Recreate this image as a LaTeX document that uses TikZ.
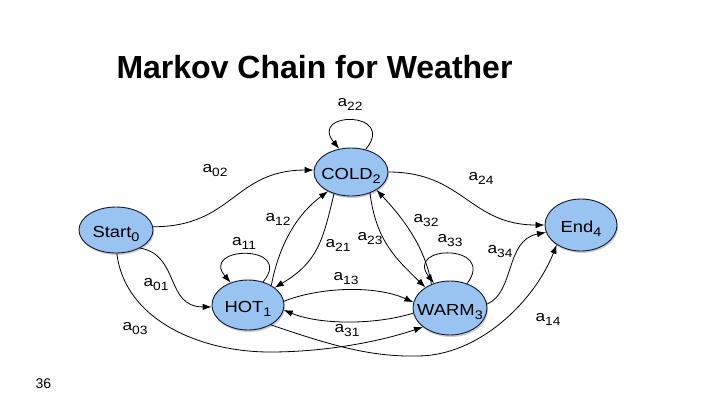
\documentclass[tikz,border=0pt]{standalone}
\usepackage{fontspec}
\setmainfont{Liberation Sans}
\newfontfamily\dfont[FakeStretch=1.15]{Liberation Sans}
\usetikzlibrary{shapes.geometric,shadows,arrows.meta}
\definecolor{nodeblue}{RGB}{153,196,242}
\definecolor{nodeedge}{RGB}{20,25,50}
\newcommand\nsub[1]{\raisebox{-4pt}{\fontsize{12.5}{12.5}\selectfont #1}}
\newcommand\lbl[1]{{\fontsize{15}{15}\selectfont a}\raisebox{-4pt}{\fontsize{12}{12}\selectfont #1}}
\begin{document}
\begin{tikzpicture}[x=1pt,y=-1pt,
  state/.style={ellipse, draw=nodeedge, line width=0.9pt, fill=nodeblue, inner sep=0pt,
    drop shadow={opacity=0.4, shadow xshift=1pt, shadow yshift=-2pt}},
  nodetext/.style={inner sep=0pt, yshift=-4pt, font=\dfont\fontsize{16}{16}\selectfont},
  edge/.style={line width=0.8pt, -{Latex[length=9pt,width=6.5pt]}},
  lab/.style={inner sep=0pt, font=\dfont}]
\fill[white] (0,0) rectangle (720,405);
\useasboundingbox (0,0) rectangle (720,405);

\node[anchor=base west, font=\bfseries\fontsize{32}{32}\selectfont] (title) at (113,78) {Markov Chain for Weather};
\node[anchor=base west, font=\fontsize{14}{14}\selectfont] (pg) at (32,388) {36};

\node[state, minimum width=74pt, minimum height=46pt, label={[nodetext]center:{Start\nsub{0}}}] (S) at (116,230) {};
\node[state, minimum width=74pt, minimum height=48pt, label={[nodetext]center:{COLD\nsub{2}}}] (C) at (351,172) {};
\node[state, minimum width=72pt, minimum height=52pt, label={[nodetext]center:{End\nsub{4}}}] (E) at (581,225) {};
\node[state, minimum width=72pt, minimum height=50pt, label={[nodetext]center:{HOT\nsub{1}}}] (H) at (248,305) {};
\node[state, minimum width=74pt, minimum height=54pt, label={[nodetext]center:{WARM\nsub{3}}}] (W) at (450,308) {};

% edges
\draw[edge] (S.5) .. controls +(80,0) and +(-80,0) .. (C.177);
\draw[edge] (C.0) .. controls +(75,0) and +(-75,0) .. (E.180);
\draw[edge] (S.-37) .. controls (180,255) and (165,307) .. (H.183);
\draw[edge] (S.-88) .. controls (125,320) and (200,352) .. (270,352) .. controls (330,352) and (385,340) .. (W.215);
\draw[edge] (H.-41) .. controls (330,345) and (370,357) .. (417,356) .. controls (480,356) and (535,300) .. (E.219);
\draw[edge] (H.6) .. controls (320,287) and (375,285) .. (W.171);
\draw[edge] (W.188) .. controls (375,325) and (320,325) .. (H.-8);
\draw[edge] (H.40) .. controls (280,240) and (300,212) .. (C.220);
\draw[edge] (C.232) .. controls (323,240) and (318,262) .. (H.33);
\draw[edge] (C.-48) .. controls (376,240) and (395,258) .. (W.140);
\draw[edge] (W.128) .. controls (425,245) and (400,215) .. (C.-35);
\draw[edge] (H.57) .. controls +(32,-38) and +(-31,-37) .. (H.128);
\draw[edge] (C.57) .. controls +(32,-39) and +(-31,-38) .. (C.117);
\draw[edge] (W.55) .. controls +(30,-40) and +(-30,-39) .. (W.123);
\draw[edge] (W.6) .. controls (515,292) and (505,240) .. (E.192);

% labels
\node[lab] (l22) at (350,104) {\lbl{22}};
\node[lab] (l02) at (215,171) {\lbl{02}};
\node[lab] (l24) at (481,178) {\lbl{24}};
\node[lab] (l12) at (278,219) {\lbl{12}};
\node[lab] (l11) at (244,243) {\lbl{11}};
\node[lab] (l21) at (338,245) {\lbl{21}};
\node[lab] (l23) at (370,239) {\lbl{23}};
\node[lab] (l32) at (426,221) {\lbl{32}};
\node[lab] (l33) at (450,241) {\lbl{33}};
\node[lab] (l34) at (500,252) {\lbl{34}};
\node[lab] (l13) at (346,279) {\lbl{13}};
\node[lab] (l31) at (347,331) {\lbl{31}};
\node[lab] (l01) at (156,285) {\lbl{01}};
\node[lab] (l03) at (135,329) {\lbl{03}};
\node[lab] (l14) at (548,319) {\lbl{14}};
\end{tikzpicture}
\end{document}
